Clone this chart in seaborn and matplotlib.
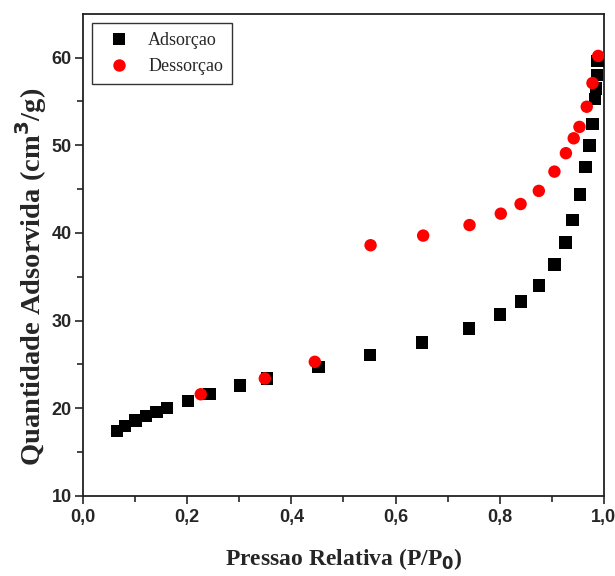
import pandas as pd
import matplotlib
matplotlib.use("Agg")
import matplotlib.pyplot as plt
import seaborn as sns

# Isoterma de adsorcao / dessorcao
p_ads = [0.065, 0.081, 0.101, 0.121, 0.141, 0.161, 0.201, 0.243, 0.301, 0.353,
         0.452, 0.551, 0.651, 0.741, 0.800, 0.841, 0.875, 0.905, 0.926, 0.940,
         0.954, 0.965, 0.972, 0.978, 0.983, 0.985, 0.987, 0.988]
v_ads = [17.4, 18.0, 18.6, 19.15, 19.6, 20.0, 20.8, 21.6, 22.6, 23.4,
         24.7, 26.1, 27.5, 29.1, 30.7, 32.2, 34.0, 36.4, 38.9, 41.5,
         44.4, 47.5, 50.0, 52.4, 55.3, 56.5, 58.0, 59.6]

p_des = [0.989, 0.978, 0.967, 0.953, 0.942, 0.927, 0.905, 0.875, 0.840, 0.802,
         0.742, 0.653, 0.552, 0.445, 0.349, 0.226]
v_des = [60.2, 57.1, 54.4, 52.1, 50.8, 49.1, 47.0, 44.8, 43.3, 42.2,
         40.9, 39.7, 38.6, 25.3, 23.4, 21.6]

series = ["Adsorçao", "Dessorçao"]

df = pd.concat([
    pd.DataFrame({"P": p_ads, "V": v_ads, "serie": series[0]}),
    pd.DataFrame({"P": p_des, "V": v_des, "serie": series[1]}),
])

sns.set_style("ticks")
plt.rcParams["font.family"] = ["Liberation Sans Narrow", "Liberation Sans", "DejaVu Sans"]

fig = plt.figure(figsize=(6.15, 5.76), dpi=100)
ax = fig.add_axes([0.135, 0.139, 0.847, 0.837])

sns.scatterplot(data=df, x="P", y="V", hue="serie", style="serie",
                hue_order=series, style_order=series,
                palette={series[0]: "black", series[1]: "red"},
                markers={series[0]: "s", series[1]: "o"},
                s=80, linewidth=0, ax=ax, zorder=3)

ax.set_xlim(0, 1.0)
ax.set_ylim(10, 65)
ax.set_xticks([0, 0.2, 0.4, 0.6, 0.8, 1.0])
ax.set_xticklabels(["0,0", "0,2", "0,4", "0,6", "0,8", "1,0"])
ax.set_yticks([10, 20, 30, 40, 50, 60])
ax.set_xticks([0.1, 0.3, 0.5, 0.7, 0.9], minor=True)
ax.set_yticks([15, 25, 35, 45, 55], minor=True)
ax.tick_params(axis="both", which="major", direction="out", length=6, width=1.2,
               labelsize=13)
ax.tick_params(axis="y", which="major", pad=2)
ax.tick_params(axis="both", which="minor", direction="out", length=4, width=1.2)
for lbl in ax.get_xticklabels() + ax.get_yticklabels():
    lbl.set_fontweight("bold")
for sp in ax.spines.values():
    sp.set_linewidth(1.3)
    sp.set_color("#222222")

serif = ["Liberation Serif", "DejaVu Serif"]
ax.set_xlabel("Pressao Relativa (P/P$_\\mathbf{0}$)", family=serif,
              fontsize=17, fontweight="bold", labelpad=14)
ax.set_ylabel("Quantidade Adsorvida (cm$^\\mathbf{3}$/g)", family=serif,
              fontsize=20.5, fontweight="bold")
ax.yaxis.set_label_coords(-0.065, 0.455)

leg = ax.legend(loc="upper left", prop={"family": serif, "size": 13},
                frameon=True, fancybox=False, edgecolor="black",
                borderpad=0.5, handletextpad=0.6, markerscale=1.0)
leg.get_frame().set_linewidth(1.0)

fig.savefig("out.png", dpi=100)
